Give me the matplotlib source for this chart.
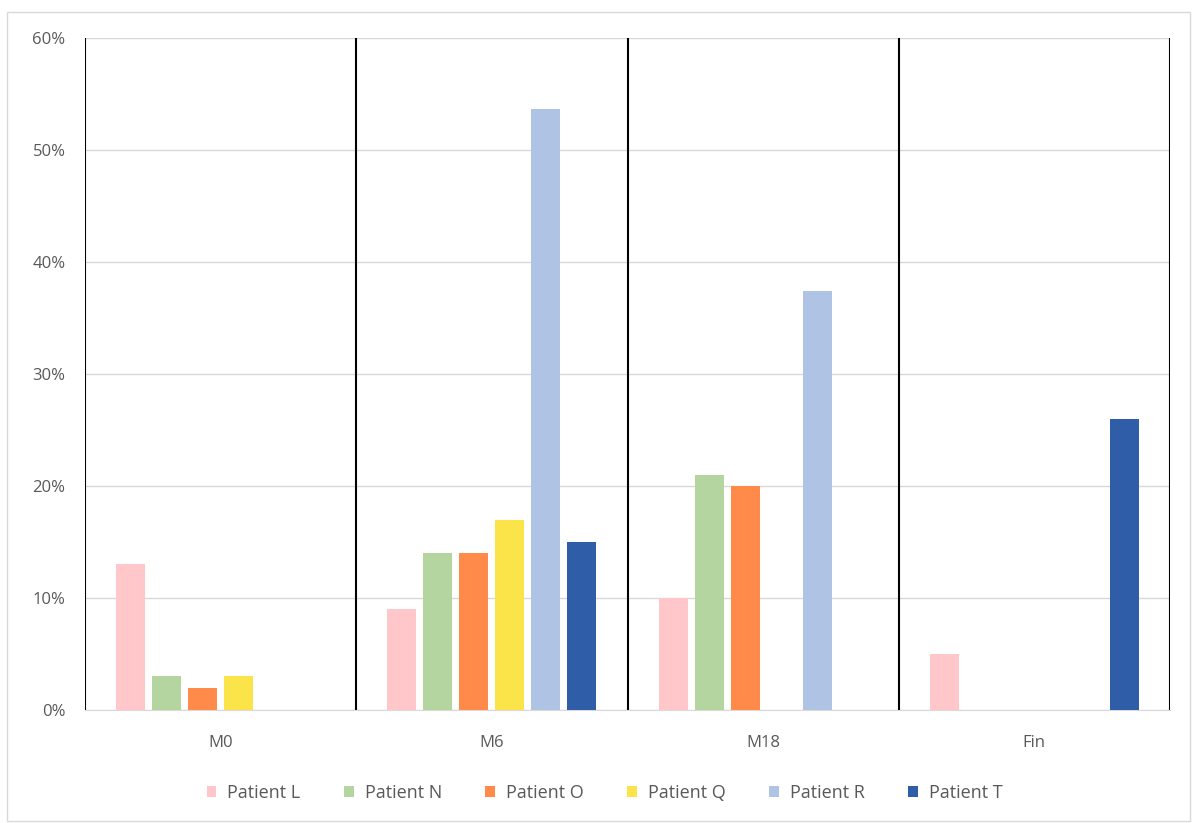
import numpy as np
import matplotlib.pyplot as plt
from matplotlib.patches import Rectangle
from matplotlib.ticker import PercentFormatter

plt.rcParams['font.family'] = ['Open Sans', 'DejaVu Sans']

# data (percent)
categories = ['M0', 'M6', 'M18', 'Fin']
patients = ['Patient L', 'Patient N', 'Patient O', 'Patient Q', 'Patient R', 'Patient T']
values = {
    'Patient L': [13, 9, 10, 5],
    'Patient N': [3, 14, 21, 0],
    'Patient O': [2, 14, 20, 0],
    'Patient Q': [3, 17, 0, 0],
    'Patient R': [0, 53.7, 37.4, 0],
    'Patient T': [0, 15, 0, 26],
}
colors = ['#FFC7CA', '#B5D5A0', '#FF8A4A', '#FBE34A', '#AFC3E4', '#2F5DA8']

fig = plt.figure(figsize=(11.92, 8.23), dpi=100)
ax = fig.add_axes([85 / 1192, 1 - 710 / 823, (1170 - 85) / 1192, (710 - 38) / 823])

# light frame around the whole chart
fig.patches.append(Rectangle((0.006, 0.003), 0.992, 0.982, transform=fig.transFigure,
                             fill=False, edgecolor='#D9D9D9', linewidth=1))

x = np.arange(len(categories))
pitch = 36 / 271
width = 29 / 271
for i, (name, col) in enumerate(zip(patients, colors)):
    offs = (i - 2.5) * pitch
    ax.bar(x + offs, values[name], width=width, color=col, label=name, zorder=3)

ax.set_xlim(-0.5, len(categories) - 0.5)
ax.set_ylim(0, 60)
ax.set_yticks(np.arange(0, 61, 10))
ax.yaxis.set_major_formatter(PercentFormatter(decimals=0))
ax.grid(axis='y', color='#D9D9D9', linewidth=1, zorder=0)

# black separators between categories
for b in np.arange(-0.5, len(categories), 1.0):
    ax.axvline(b, color='black', linewidth=1.5, zorder=2)

ax.set_xticks(x)
ax.set_xticklabels(categories)
ax.tick_params(length=0, labelsize=12, colors='#595959')
ax.tick_params(axis='x', pad=18)
ax.tick_params(axis='y', pad=14)
for s in ['top', 'left', 'right']:
    ax.spines[s].set_visible(False)
ax.spines['bottom'].set_color('#D9D9D9')

fig.legend(loc='center', bbox_to_anchor=(0.507, 1 - 793 / 823), ncol=6, frameon=False,
           handlelength=0.55, handleheight=0.55, handletextpad=0.6, columnspacing=2.4,
           fontsize=13, labelcolor='#595959')

plt.savefig('out.png', dpi=100)
